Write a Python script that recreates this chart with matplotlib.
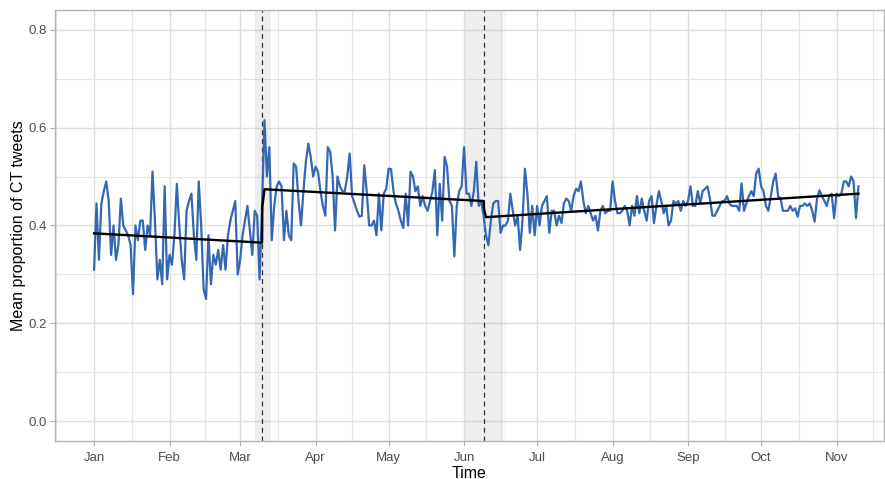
import pandas as pd
import matplotlib
matplotlib.use('Agg')
import matplotlib.pyplot as plt
import matplotlib.dates as mdates

plt.rcParams['font.family'] = ['Liberation Sans', 'DejaVu Sans']

# daily mean proportion of CT tweets
jan = [0.31, 0.445, 0.33, 0.445, 0.47, 0.49, 0.45, 0.34, 0.40, 0.33, 0.36, 0.455, 0.40, 0.39, 0.38, 0.36,
       0.26, 0.40, 0.37, 0.41, 0.41, 0.35, 0.40, 0.38, 0.51, 0.41, 0.29, 0.33, 0.28, 0.48, 0.29]
feb = [0.34, 0.32, 0.38, 0.485, 0.40, 0.33, 0.29, 0.43, 0.45, 0.465, 0.38, 0.33, 0.49, 0.40, 0.27,
       0.25, 0.38, 0.28, 0.34, 0.32, 0.35, 0.31, 0.36, 0.31, 0.38, 0.41, 0.43, 0.45, 0.30]
mar = [0.33, 0.38, 0.41, 0.44, 0.39, 0.34, 0.43, 0.42, 0.29, 0.44, 0.615, 0.50, 0.56, 0.37, 0.44, 0.48,
       0.49, 0.48, 0.37, 0.43, 0.38, 0.37, 0.527, 0.52, 0.45, 0.40, 0.47, 0.53, 0.567, 0.54, 0.50]
apr = [0.52, 0.51, 0.47, 0.44, 0.42, 0.56, 0.55, 0.50, 0.39, 0.50, 0.48, 0.47, 0.47, 0.50, 0.547,
       0.46, 0.445, 0.43, 0.418, 0.42, 0.523, 0.47, 0.40, 0.40, 0.41, 0.38, 0.465, 0.39, 0.465, 0.475]
may = [0.516, 0.515, 0.47, 0.445, 0.43, 0.41, 0.395, 0.465, 0.40, 0.51, 0.50, 0.47, 0.48, 0.44, 0.46,
       0.44, 0.43, 0.45, 0.47, 0.513, 0.38, 0.485, 0.41, 0.54, 0.52, 0.45, 0.44, 0.337, 0.44, 0.47, 0.48]
jun = [0.56, 0.465, 0.465, 0.44, 0.47, 0.53, 0.44, 0.45, 0.42, 0.38, 0.36, 0.41, 0.445, 0.45, 0.45,
       0.385, 0.40, 0.40, 0.41, 0.465, 0.43, 0.40, 0.42, 0.35, 0.41, 0.516, 0.465, 0.385, 0.44, 0.38]
jul = [0.44, 0.40, 0.44, 0.45, 0.46, 0.385, 0.43, 0.43, 0.40, 0.42, 0.405, 0.445, 0.455, 0.45, 0.43,
       0.46, 0.475, 0.47, 0.49, 0.45, 0.425, 0.44, 0.425, 0.41, 0.42, 0.39, 0.43, 0.44, 0.425, 0.43, 0.43]
aug = [0.49, 0.45, 0.425, 0.425, 0.43, 0.44, 0.43, 0.40, 0.44, 0.42, 0.46, 0.425, 0.455, 0.43, 0.41,
       0.45, 0.46, 0.405, 0.44, 0.47, 0.45, 0.425, 0.44, 0.40, 0.41, 0.45, 0.445, 0.45, 0.43, 0.45, 0.44]
sep = [0.45, 0.48, 0.44, 0.44, 0.47, 0.445, 0.47, 0.475, 0.48, 0.455, 0.42, 0.42, 0.43, 0.44, 0.45,
       0.45, 0.46, 0.445, 0.44, 0.44, 0.44, 0.43, 0.486, 0.43, 0.445, 0.46, 0.47, 0.46, 0.506, 0.516]
oct_ = [0.48, 0.47, 0.44, 0.43, 0.46, 0.49, 0.506, 0.46, 0.455, 0.43, 0.43, 0.43, 0.44, 0.43, 0.435,
        0.418, 0.44, 0.44, 0.445, 0.44, 0.445, 0.43, 0.408, 0.455, 0.472, 0.46, 0.45, 0.44, 0.46, 0.465, 0.415]
nov = [0.465, 0.46, 0.465, 0.49, 0.49, 0.48, 0.50, 0.49, 0.415, 0.48]

values = jan + feb + mar + apr + may + jun + jul + aug + sep + oct_ + nov
dates = pd.date_range('2020-01-01', periods=len(values), freq='D')

# segmented regression (segment end points)
fit_dates = pd.to_datetime(['2020-01-01', '2020-03-10', '2020-03-10 03:00', '2020-03-11',
                            '2020-06-09', '2020-06-09 06:00', '2020-06-10', '2020-11-10'],
                           format='ISO8601')
fit_vals = [0.384, 0.365, 0.438, 0.474, 0.450, 0.432, 0.417, 0.465]

# events and shaded windows
events = pd.to_datetime(['2020-03-10', '2020-06-09'])
bands = [('2020-03-07 06:00', '2020-03-13 16:00', 0.17),
         ('2020-06-01 08:00', '2020-06-16 10:00', 0.17),
         ('2020-06-16 10:00', '2020-06-18 10:00', 0.09)]

fig = plt.figure(figsize=(8.85, 4.79), dpi=100)
ax = fig.add_axes([55/885, 38/479, 829/885, 431/479])

for b0, b1, a in bands:
    ax.axvspan(pd.Timestamp(b0), pd.Timestamp(b1), color='#A0A0A0', alpha=a, lw=0, zorder=1.5)
for ev in events:
    ax.axvline(ev, color='#333333', lw=0.9, ls=(0, (4, 3)), zorder=2)

ax.plot(dates, values, color='#3468B2', lw=1.6, zorder=3)
ax.plot(fit_dates, fit_vals, color='black', lw=1.7, zorder=4)

start = pd.Timestamp('2020-01-01')
ax.set_xlim(mdates.date2num(start) - 16.05, mdates.date2num(start) + 324.5)
ax.set_ylim(-0.04, 0.84)

ax.xaxis.set_major_locator(mdates.MonthLocator())
ax.xaxis.set_major_formatter(mdates.DateFormatter('%b'))
months = pd.date_range('2019-12-01', '2020-12-01', freq='MS')
mids = [mdates.date2num(months[i]) + (mdates.date2num(months[i + 1]) - mdates.date2num(months[i])) / 2
        for i in range(len(months) - 1)]
ax.set_xticks(mids, minor=True)
ax.set_yticks([0.0, 0.2, 0.4, 0.6, 0.8])
ax.set_yticks([0.1, 0.3, 0.5, 0.7], minor=True)
ax.yaxis.set_major_formatter(matplotlib.ticker.FormatStrFormatter('%.1f'))

ax.grid(which='major', color='#DEDEDE', lw=1.0)
ax.grid(which='minor', color='#E6E6E6', lw=0.8)
ax.set_axisbelow(True)
for s in ax.spines.values():
    s.set_color('#B3B3B3')
    s.set_linewidth(1.0)
ax.tick_params(which='major', color='#B3B3B3', length=3.5, width=0.8,
               labelcolor='#4D4D4D', labelsize=9.5)
ax.tick_params(axis='x', which='major', pad=4.5)
ax.tick_params(axis='y', which='major', pad=2.5)
ax.tick_params(which='minor', length=0)

ax.set_xlabel('Time', fontsize=11.5, labelpad=1)
ax.set_ylabel('Mean proportion of CT tweets', fontsize=11.5, labelpad=2)

fig.savefig('out.png', dpi=100)
